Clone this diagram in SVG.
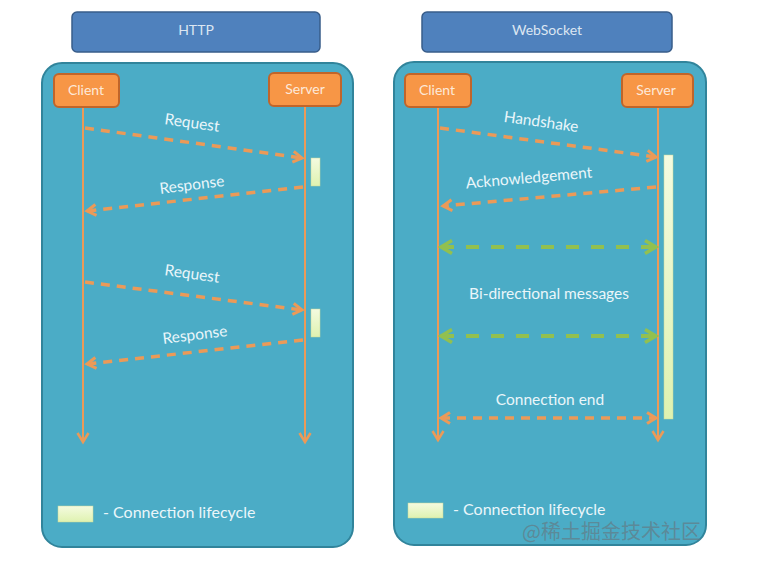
<svg xmlns="http://www.w3.org/2000/svg" width="763" height="577" viewBox="0 0 763 577">
<style>
.hdr{fill:#4f81bd;stroke:#385d8a;stroke-width:1.5}
.hdrt{font-family:Lato,"Liberation Sans",sans-serif;font-size:14px;fill:#dce6f2;text-anchor:middle}
.panel{fill:#4bacc6;stroke:#31849b;stroke-width:2}
.actor{fill:#f79646;stroke:#c0652a;stroke-width:2}
.actt{font-family:Lato,"Liberation Sans",sans-serif;font-size:14px;fill:#fde9d9;text-anchor:middle}
.life{stroke:#eb9a58;stroke-width:2;fill:none}
.msg{stroke:#eb9a58;stroke-width:3.5;fill:none;stroke-dasharray:9 7}
.bi{stroke:#92c050;stroke-width:4;fill:none;stroke-dasharray:13 12}
.lbl{font-family:Lato,"Liberation Sans",sans-serif;font-size:15.5px;fill:#eaf6fa;text-anchor:middle}
.bar{fill:url(#lg);stroke:#c5d89a;stroke-width:0.5}
.leg{font-family:Lato,"Liberation Sans",sans-serif;font-size:16px;fill:#eaf6fa}
</style>
<defs>
<linearGradient id="lg" x1="0" y1="0" x2="0" y2="1"><stop offset="0" stop-color="#f4fbe0"/><stop offset="1" stop-color="#dff2b0"/></linearGradient>
<marker id="ah" markerUnits="userSpaceOnUse" markerWidth="14" markerHeight="14" refX="11" refY="7" orient="auto-start-reverse" viewBox="0 0 14 14"><path d="M2,1.5 L11,7 L2,12.5" fill="none" stroke="#eb9a58" stroke-width="3"/></marker>
<marker id="ahg" markerUnits="userSpaceOnUse" markerWidth="16" markerHeight="16" refX="13" refY="8" orient="auto-start-reverse" viewBox="0 0 16 16"><path d="M2,1.5 L13,8 L2,14.5" fill="none" stroke="#92c050" stroke-width="3.5"/></marker>
<marker id="ahl" markerUnits="userSpaceOnUse" markerWidth="14" markerHeight="14" refX="7" refY="11" viewBox="0 0 14 14" orient="0"><path d="M1.5,2 L7,11 L12.5,2" fill="none" stroke="#eb9a58" stroke-width="2.5"/></marker>
</defs>

<g id="http-header"><rect class="hdr" x="72" y="12" width="248" height="40" rx="5"/><text class="hdrt" x="196" y="35">HTTP</text></g>
<g id="ws-header"><rect class="hdr" x="422" y="12" width="250" height="40" rx="5"/><text class="hdrt" x="547" y="35">WebSocket</text></g>

<g id="http-panel"><rect class="panel" x="42" y="63" width="311" height="484" rx="20"/></g>
<g id="ws-panel"><rect class="panel" x="394" y="62" width="312" height="483" rx="20"/></g>

<g id="connectors">
<line class="life" x1="83" y1="107" x2="83" y2="442" marker-end="url(#ahl)"/>
<line class="life" x1="305" y1="106" x2="305" y2="442" marker-end="url(#ahl)"/>
<line class="life" x1="438" y1="107" x2="438" y2="440" marker-end="url(#ahl)"/>
<line class="life" x1="658" y1="107" x2="658" y2="440" marker-end="url(#ahl)"/>
<line class="msg" x1="85" y1="128" x2="302" y2="158" marker-end="url(#ah)"/>
<line class="msg" x1="303" y1="187" x2="87" y2="211" marker-end="url(#ah)"/>
<line class="msg" x1="85" y1="282" x2="302" y2="310" marker-end="url(#ah)"/>
<line class="msg" x1="303" y1="340" x2="87" y2="364" marker-end="url(#ah)"/>
<line class="msg" x1="440" y1="128" x2="656" y2="157" marker-end="url(#ah)"/>
<line class="msg" x1="656" y1="187" x2="443" y2="206" marker-end="url(#ah)"/>
<line class="bi" x1="441" y1="247" x2="656" y2="247" marker-start="url(#ahg)" marker-end="url(#ahg)"/>
<line class="bi" x1="441" y1="336" x2="656" y2="336" marker-start="url(#ahg)" marker-end="url(#ahg)"/>
<line class="msg" x1="441" y1="418" x2="656" y2="418" marker-start="url(#ah)" marker-end="url(#ah)"/>
</g>

<g id="http-client"><rect class="actor" x="54" y="74" width="65" height="33" rx="5"/><text class="actt" x="86" y="95">Client</text></g>
<g id="http-server"><rect class="actor" x="269" y="73" width="72" height="33" rx="5"/><text class="actt" x="305" y="94">Server</text></g>
<g id="ws-client"><rect class="actor" x="405" y="74" width="66" height="33" rx="5"/><text class="actt" x="437" y="95">Client</text></g>
<g id="ws-server"><rect class="actor" x="622" y="74" width="71" height="33" rx="5"/><text class="actt" x="656" y="95">Server</text></g>

<g id="http-bars">
<rect class="bar" x="311" y="158" width="9" height="28"/>
<rect class="bar" x="311" y="309" width="9" height="28"/>
</g>
<g id="ws-bar"><rect class="bar" x="664" y="155" width="9" height="264"/></g>

<g id="labels">
<text class="lbl" x="192" y="128" transform="rotate(8 192 124)">Request</text>
<text class="lbl" x="192" y="190" transform="rotate(-7 192 186)">Response</text>
<text class="lbl" x="192" y="279" transform="rotate(8 192 275)">Request</text>
<text class="lbl" x="195" y="340" transform="rotate(-7 195 336)">Response</text>
<text class="lbl" x="541" y="127" transform="rotate(8 541 123)">Handshake</text>
<text class="lbl" x="529" y="183" transform="rotate(-5 529 179)">Acknowledgement</text>
<text class="lbl" x="549" y="299">Bi-directional messages</text>
<text class="lbl" x="550" y="405">Connection end</text>
</g>

<g id="http-legend"><rect class="bar" x="58" y="506" width="35" height="16"/><text class="leg" x="103" y="518">- Connection lifecycle</text></g>
<g id="ws-legend"><rect class="bar" x="408" y="503" width="35" height="15"/><text class="leg" x="453" y="515">- Connection lifecycle</text></g>

<text x="522" y="539" font-family="'Noto Sans CJK SC','Liberation Sans',sans-serif" font-size="20" fill="#66767e" fill-opacity="0.65">@稀土掘金技术社区</text>
</svg>
